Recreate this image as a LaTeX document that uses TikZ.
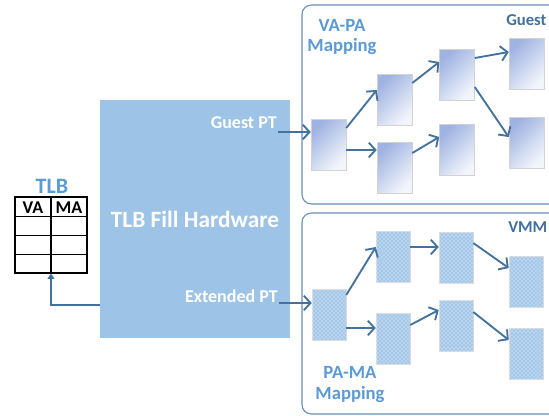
\documentclass[tikz,border=0pt]{standalone}
\usepackage{fontspec}
\setmainfont{Carlito}
\usetikzlibrary{arrows.meta,calc,patterns}
\definecolor{hwblue}{HTML}{9DC3E6}
\definecolor{titleblue}{HTML}{5B9BD5}
\definecolor{darkblue}{HTML}{41719C}
\definecolor{arrowblue}{HTML}{44729E}
\definecolor{gtop}{HTML}{9FB3E2}
\definecolor{gbot}{HTML}{F2F5FB}
\definecolor{dfill}{HTML}{A6C9EA}
\tikzset{
  gbox/.style={rectangle, draw=gray!35, line width=0.4pt, minimum width=35*0.75pt, minimum height=51*0.75pt, inner sep=0pt,
    top color=gtop, bottom color=gbot, shading angle=45},
  dbox/.style={rectangle, draw=gray!30, line width=0.4pt, minimum width=34*0.75pt, minimum height=51*0.75pt, inner sep=0pt,
    fill=dfill, postaction={pattern=crosshatch dots, pattern color=white!85!dfill}},
  arr/.style={draw=arrowblue, line width=1.4pt, -{Straight Barb[length=5pt,width=11pt,line width=1.4pt]}},
  retarr/.style={draw=darkblue, line width=1pt, -{Triangle[length=4pt,width=5pt]}},
  panel/.style={draw=darkblue!80, line width=0.8pt, rounded corners=7pt},
  maptxt/.style={font=\fontsize{14}{16}\selectfont\bfseries, text=titleblue, inner sep=0pt},
  cornertxt/.style={font=\fontsize{12.5}{14}\selectfont\bfseries, text=darkblue, inner sep=0pt, anchor=west},
  hwtxt/.style={font=\fontsize{13.5}{15}\selectfont\bfseries, text=white, inner sep=0pt},
  celltxt/.style={font=\fontsize{13.5}{15}\selectfont\bfseries, inner sep=0pt}
}
\begin{document}
\begin{tikzpicture}[x=0.75pt,y=-0.75pt]
\useasboundingbox (0,0) rectangle (549,415);
\clip (0,0) rectangle (549,415);

% panels
\draw[panel] (302,5) rectangle (570,204);
\draw[panel] (302,213) rectangle (570,414);

% main hardware box
\node[rectangle, fill=hwblue, minimum width=190*0.75pt, minimum height=238*0.75pt, inner sep=0pt,
  font=\fontsize{17.5}{19}\selectfont\bfseries, text=white] (hw) at (195,219) {TLB Fill Hardware};

\node[hwtxt, anchor=base east] (gpt) at (277,128) {Guest PT};
\node[hwtxt, anchor=base east] (ept) at (278,302) {Extended PT};

% TLB table
\node[draw=black, line width=0.8pt, minimum width=72*0.75pt, minimum height=76*0.75pt, inner sep=0pt] (tlb) at (51,235) {};
\draw[line width=0.8pt] (tlb.north) -- (tlb.south);
\draw[line width=0.8pt] ($(tlb.north west)+(0,20)$) -- ($(tlb.north east)+(0,20)$);
\draw[line width=0.6pt] ($(tlb.north west)+(0,39)$) -- ($(tlb.north east)+(0,39)$);
\draw[line width=0.6pt] ($(tlb.north west)+(0,58)$) -- ($(tlb.north east)+(0,58)$);
\node[celltxt] (va) at (33,208) {VA};
\node[celltxt] (ma) at (69,208) {MA};
\node[font=\fontsize{16.5}{18}\selectfont\bfseries, text=titleblue, inner sep=0pt] (tlbt) at (52,186) {TLB};

% return connector
\draw[retarr] ($(hw.west)+(0,86)$) -| (tlb.south);

% guest panel
\node[maptxt] (vapa1) at (342,25) {VA-PA};
\node[maptxt] (vapa2) at (342,47) {Mapping};
\node[cornertxt] (guest) at (506,20) {Guest};

\node[gbox] (A) at (328.5,145) {};
\node[gbox] (B) at (394.5,100) {};
\node[gbox] (C) at (394.5,167.5) {};
\node[gbox] (D) at (457,75) {};
\node[gbox] (E) at (457,150) {};
\node[gbox] (F) at (526.5,64) {};
\node[gbox] (G) at (526.5,143) {};

\draw[arr] ($(gpt.base east)+(1,4)$) -- ($(A.west)+(0,-13)$);
\draw[arr] ($(A.east)+(0,-17)$) -- ($(B.west)+(0,-10)$);
\draw[arr] ($(A.east)+(0,5)$) -- ($(C.west)+(0,-17.5)$);
\draw[arr] ($(B.east)+(0,-17)$) -- ($(D.west)+(0,-13)$);
\draw[arr] ($(C.east)+(0,-14.5)$) -- ($(E.west)+(0,-13)$);
\draw[arr] ($(D.east)+(0,-17)$) -- ($(F.west)+(0,-12)$);
\draw[arr] ($(D.east)+(0,12)$) -- ($(G.west)+(0,-6)$);

% vmm panel
\node[cornertxt] (vmm) at (508,227) {VMM};
\node[maptxt] (pama1) at (350,372) {PA-MA};
\node[maptxt] (pama2) at (350,395) {Mapping};

\node[dbox] (a) at (329,314.5) {};
\node[dbox] (b) at (393,257) {};
\node[dbox] (c) at (393,339) {};
\node[dbox] (d) at (456,258) {};
\node[dbox] (e) at (456,326) {};
\node[dbox] (f) at (526,282) {};
\node[dbox] (g) at (526,353.5) {};

\draw[arr] ($(ept.base east)+(1,1)$) -- ($(a.west)+(0,-11.5)$);
\draw[arr] ($(a.east)+(0,-19.5)$) -- ($(b.west)+(0,-10)$);
\draw[arr] ($(a.east)+(0,13.5)$) -- ($(c.west)+(0,-11)$);
\draw[arr] ($(b.east)+(0,-10)$) -- ($(d.west)+(0,-11)$);
\draw[arr] ($(c.east)+(0,-14)$) -- ($(e.west)+(0,-16)$);
\draw[arr] ($(d.east)+(0,-15)$) -- ($(f.west)+(0,-14)$);
\draw[arr] ($(e.east)+(0,-14)$) -- ($(g.west)+(0,-13.5)$);
\end{tikzpicture}
\end{document}
